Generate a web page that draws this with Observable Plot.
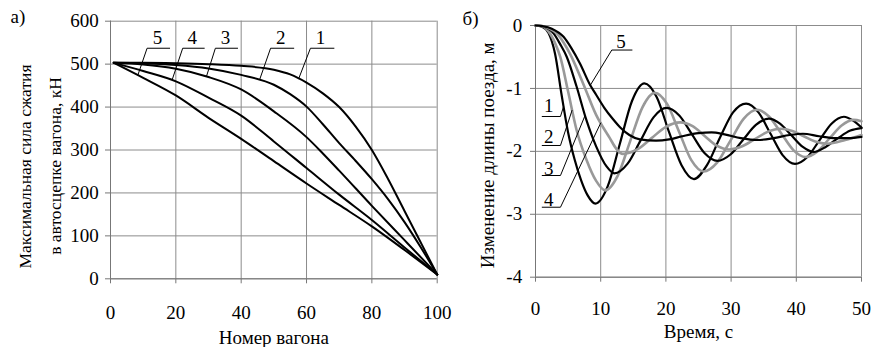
<!DOCTYPE html>
<html><head><meta charset="utf-8">
<script src="https://cdn.jsdelivr.net/npm/d3@7"></script>
<script src="https://cdn.jsdelivr.net/npm/@observablehq/plot@0.6"></script>
<style>
html,body{margin:0;padding:0;background:#fff;}
#wrap{position:relative;width:871px;height:347px;overflow:hidden;background:#fff;}
#pa{position:absolute;left:0;top:0;width:440px;height:347px;}
#pb{position:absolute;left:440px;top:0;width:431px;height:347px;}
#wrap svg{overflow:visible;max-width:none !important;background:transparent !important;}
</style></head><body>
<div id="wrap"><div id="pa"></div><div id="pb"></div></div>
<script>
// ================= Panel а) =================
const panelATag = "а)";
const panelAXLabel = "Номер вагона";
const panelAYLabel1 = "Максимальная сила сжатия";
const panelAYLabel2 = "в автосцепке вагона, кН";
const panelAXTicks = [0, 20, 40, 60, 80, 100];
const panelAYTicks = [0, 100, 200, 300, 400, 500, 600];

// [car number, max compressive force kN]
const forceCurve1 = [[1,503],[10,503],[20,502],[30,500],[40,496],[50,487],[55,476],[60,457],[65,432],[70,400],[75,355],[80,300],[85,232],[90,158],[95,84],[100,10]];
const forceCurve2 = [[1,503],[10,502],[20,498],[30,490],[40,475],[50,452],[55,430],[60,401],[65,360],[70,316],[75,275],[80,232],[85,185],[90,132],[95,73],[100,10]];
const forceCurve3 = [[1,503],[10,499],[20,489],[30,470],[40,441],[50,390],[60,330],[65,292],[70,252],[80,170],[90,90],[100,10]];
const forceCurve4 = [[1,503],[10,484],[20,460],[30,422],[40,380],[50,320],[60,258],[70,196],[80,137],[90,73],[100,10]];
const forceCurve5 = [[1,503],[10,468],[20,427],[30,375],[40,326],[50,274],[60,222],[70,172],[80,122],[90,67],[100,10]];
const forceCurveNames = ["1", "2", "3", "4", "5"];

// curve labels: text position, and leader polyline [tip on curve, attach end, free end]
const labelAText = [[64.3,560],[52.1,560],[35.2,560],[25,560],[14.4,560]];
const labelALeader = [
  [[57.6,466],[61.2,537],[68.4,537]],
  [[45.7,465],[49.0,537],[56.1,537]],
  [[29.4,472],[32.1,537],[38.9,537]],
  [[18.9,464],[22.1,537],[28.7,537]],
  [[8.4,475],[11.2,537],[18.1,537]]
];

// ================= Panel б) =================
const panelBTag = "б)";
const panelBXLabel = "Время, с";
const panelBYLabel = "Изменение длины поезда, м";
const panelBXTicks = [0, 10, 20, 30, 40, 50];
const panelBYTicks = [-4, -3, -2, -1, 0];

// [time s, change of train length m]
const lengthCurve1 = [[0,0],[1,-0.02],[2,-0.12],[3,-0.45],[4,-1.1],[5,-1.7],[6,-2.13],[7,-2.46],[8,-2.7],[9.2,-2.83],[11.1,-2.55],[12.95,-1.875],[14.8,-1.2],[16.7,-0.92],[18.6,-1.14],[20.5,-1.7],[22.4,-2.22],[24.3,-2.44],[26.3,-2.22],[28.3,-1.78],[30.3,-1.38],[32.3,-1.24],[34.2,-1.38],[36.05,-1.72],[37.9,-2.06],[39.8,-2.2],[41.7,-2.09],[43.55,-1.825],[45.4,-1.56],[47.3,-1.45],[48.7,-1.51],[50,-1.62]];
const lengthCurve2 = [[0,0],[1,-0.01],[2.3,-0.14],[3,-0.28],[3.8,-0.5],[5,-1.05],[6.3,-1.66],[7.8,-2.13],[9.3,-2.47],[10.7,-2.62],[12.6,-2.39],[14.5,-1.845],[16.4,-1.3],[18.3,-1.07],[20.2,-1.25],[22.05,-1.695],[23.9,-2.14],[25.8,-2.32],[27.85,-2.18],[29.9,-1.83],[31.95,-1.48],[34,-1.34],[35.85,-1.45],[37.7,-1.715],[39.55,-1.98],[41.4,-2.09],[43.25,-2.0],[45.1,-1.795],[46.95,-1.59],[48.8,-1.5],[50,-1.52]];
const lengthCurve3 = [[0,0],[1,-0.01],[2.8,-0.13],[3.8,-0.3],[4.8,-0.5],[6.3,-0.97],[7.8,-1.5],[9.3,-1.92],[10.9,-2.24],[12.1,-2.35],[14.1,-2.2],[16.1,-1.83],[18.1,-1.46],[20.1,-1.31],[22.05,-1.43],[24,-1.73],[25.95,-2.03],[27.9,-2.15],[29.9,-2.05],[31.85,-1.815],[33.8,-1.58],[35.8,-1.48],[37.5,-1.56],[39.25,-1.745],[41,-1.93],[42.7,-2.01],[44.5,-1.93],[46.4,-1.79],[48.3,-1.67],[50,-1.63]];
const lengthCurve4 = [[0,0],[1,-0.01],[3.3,-0.13],[4.3,-0.27],[5.3,-0.45],[7.3,-0.92],[9.3,-1.42],[11.4,-1.79],[12.4,-1.96],[13.4,-2.04],[15.6,-1.97],[17.8,-1.79],[20,-1.61],[22.2,-1.54],[24.1,-1.6],[25.95,-1.755],[27.8,-1.91],[29.7,-1.97],[31.7,-1.92],[33.65,-1.805],[35.6,-1.69],[37.6,-1.64],[39.4,-1.675],[41.15,-1.76],[42.9,-1.845],[44.7,-1.88],[47.5,-1.82],[50,-1.74]];
const lengthCurve5 = [[0,0],[1,-0.01],[2.5,-0.05],[4.3,-0.18],[5.5,-0.36],[6.8,-0.6],[8.4,-0.95],[9.3,-1.1],[10.5,-1.3],[11.9,-1.49],[13,-1.62],[14.4,-1.74],[16,-1.81],[18.5,-1.83],[20.5,-1.81],[22.5,-1.76],[25,-1.71],[27,-1.7],[29,-1.73],[31.5,-1.79],[34,-1.82],[36.5,-1.79],[39,-1.74],[41,-1.72],[43.5,-1.76],[46,-1.79],[48,-1.79],[50,-1.77]];
const lengthCurveNames = ["1", "2", "3", "4", "5"];
const lengthCurveColors = ["#000", "#999", "#000", "#999", "#000"];

const labelBText = [[2.04,-1.27],[2.04,-1.775],[2.04,-2.28],[2.04,-2.77],[13.1,-0.26]];
const labelBLeader = [
  [[4.3,-1.29],[3.83,-1.446],[1.03,-1.446]],
  [[5.6,-1.35],[3.83,-1.907],[1.03,-1.907]],
  [[7.6,-1.43],[3.83,-2.384],[1.03,-2.384]],
  [[10.0,-1.55],[3.83,-2.888],[1.03,-2.888]],
  [[8.4,-0.95],[11.7,-0.39],[14.8,-0.39]]
];

// ================= drawing =================
const FONT = "'Liberation Serif', 'DejaVu Serif', 'Times New Roman', serif";
const GRID = "#8c8c8c";

function toRows(names, curves) {
  return curves.flatMap((c, i) => c.map(([x, y]) => ({series: names[i], x, y})));
}
function leaderRows(names, leaders) {
  return leaders.flatMap((l, i) => l.map(([x, y]) => ({series: names[i], x, y})));
}
function textRows(names, pos) {
  return pos.map(([x, y], i) => ({label: names[i], x, y}));
}
const T = {fontSize: 19, fontFamily: FONT};
const TY = {fontSize: 17.5, fontFamily: FONT};

const rowsA = toRows(forceCurveNames, [forceCurve1, forceCurve2, forceCurve3, forceCurve4, forceCurve5]);

const plotA = Plot.plot({
  width: 440, height: 347,
  marginLeft: 110, marginRight: 3.3, marginTop: 20.7, marginBottom: 68.7,
  style: {fontFamily: FONT, fontSize: "19px", color: "#000", background: "transparent", overflow: "visible"},
  x: {domain: [0, 100]},
  y: {domain: [0, 600]},
  marks: [
    Plot.gridX(panelAXTicks, {stroke: GRID, strokeOpacity: 1, strokeWidth: 1}),
    Plot.gridY(panelAYTicks, {stroke: GRID, strokeOpacity: 1, strokeWidth: 1}),
    Plot.ruleX([0], {stroke: "#777"}),
    Plot.ruleY([0], {stroke: "#777"}),
    Plot.axisX(panelAXTicks, {tickSize: 5, tickPadding: 29.5, lineAnchor: "middle", stroke: "#777", label: null, ...T}),
    Plot.axisY(panelAYTicks, {tickSize: 5, tickPadding: 6.7, stroke: "#777", label: null, ...T}),
    Plot.line(rowsA, {x: "x", y: "y", z: "series", stroke: "#000", strokeWidth: 2, curve: "monotone-x"}),
    Plot.line(leaderRows(forceCurveNames, labelALeader), {x: "x", y: "y", z: "series", stroke: "#000", strokeWidth: 1}),
    Plot.text(textRows(forceCurveNames, labelAText), {x: "x", y: "y", text: "label", lineAnchor: "middle", textAnchor: "middle", ...T}),
    Plot.text([panelAXLabel], {text: d => d, frameAnchor: "bottom", dy: 58.7, lineAnchor: "middle", textAnchor: "middle", ...T}),
    Plot.text([panelAYLabel1], {text: d => d, frameAnchor: "left", rotate: -90, dx: -85, dy: 16.5, lineAnchor: "middle", textAnchor: "middle", ...TY}),
    Plot.text([panelAYLabel2], {text: d => d, frameAnchor: "left", rotate: -90, dx: -55, dy: 16, lineAnchor: "middle", textAnchor: "middle", ...TY}),
    Plot.text([panelATag], {text: d => d, frameAnchor: "top-left", dx: -100, dy: -4, lineAnchor: "middle", textAnchor: "start", ...T})
  ]
});
document.getElementById("pa").appendChild(plotA);

const plotB = Plot.plot({
  width: 431, height: 347,
  marginLeft: 95, marginRight: 10, marginTop: 25, marginBottom: 70.3,
  style: {fontFamily: FONT, fontSize: "19px", color: "#000", background: "transparent", overflow: "visible"},
  x: {domain: [0, 50]},
  y: {domain: [-4, 0]},
  marks: [
    Plot.gridX(panelBXTicks, {stroke: GRID, strokeOpacity: 1, strokeWidth: 1}),
    Plot.gridY(panelBYTicks, {stroke: GRID, strokeOpacity: 1, strokeWidth: 1}),
    Plot.ruleX([0], {stroke: "#777"}),
    Plot.ruleY([-4], {stroke: "#777"}),
    Plot.axisX(panelBXTicks, {tickSize: 5, tickPadding: 26.3, lineAnchor: "middle", stroke: "#777", label: null, ...T}),
    Plot.axisY(panelBYTicks, {tickSize: 5, tickPadding: 8.3, stroke: "#777", label: null, tickFormat: d => String(d), ...T}),
    ...[lengthCurve1, lengthCurve2, lengthCurve3, lengthCurve4, lengthCurve5].map((c, i) =>
      Plot.line(c, {x: d => d[0], y: d => d[1], stroke: lengthCurveColors[i], strokeWidth: lengthCurveColors[i] === "#000" ? 2.2 : 2.6, curve: "monotone-x"})
    ),
    Plot.line(leaderRows(lengthCurveNames, labelBLeader), {x: "x", y: "y", z: "series", stroke: "#000", strokeWidth: 1}),
    Plot.text(textRows(lengthCurveNames, labelBText), {x: "x", y: "y", text: "label", lineAnchor: "middle", textAnchor: "middle", ...T}),
    Plot.text([panelBXLabel], {text: d => d, frameAnchor: "bottom", dy: 55, lineAnchor: "middle", textAnchor: "middle", ...T}),
    Plot.text([panelBYLabel], {text: d => d, frameAnchor: "left", rotate: -90, dx: -48, dy: 4, lineAnchor: "middle", textAnchor: "middle", ...T}),
    Plot.text([panelBTag], {text: d => d, frameAnchor: "top-left", dx: -73, dy: -7, lineAnchor: "middle", textAnchor: "start", ...T})
  ]
});
document.getElementById("pb").appendChild(plotB);
</script>
</body></html>
